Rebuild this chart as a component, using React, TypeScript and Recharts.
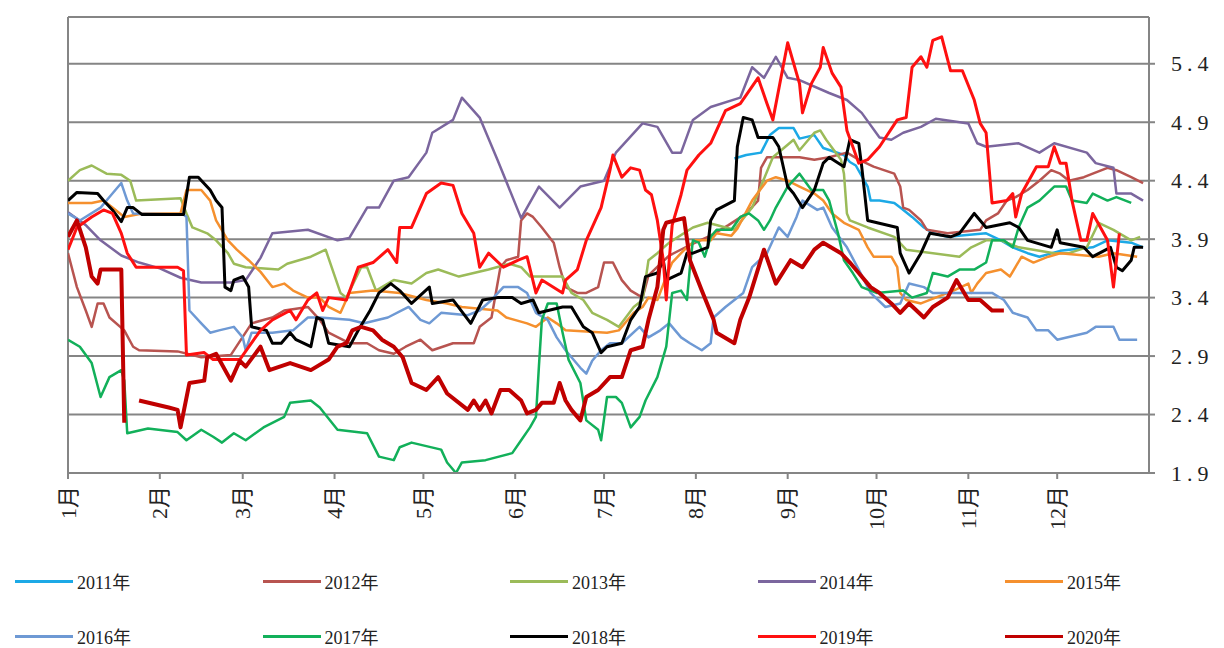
import { LineChart, Line, XAxis, YAxis, CartesianGrid, ReferenceLine } from 'recharts';

// x = day of year (0 = Jan 1), y = value
const monthStarts = [0, 31, 59, 90, 120, 151, 181, 212, 243, 273, 304, 334];
const monthLabels = ['1月', '2月', '3月', '4月', '5月', '6月', '7月', '8月', '9月', '10月', '11月', '12月'];
const valueTicks = [1.9, 2.4, 2.9, 3.4, 3.9, 4.4, 4.9, 5.4];

const s2011 = [[225,4.59],[229,4.62],[234,4.64],[237,4.79],[240,4.85],[245,4.85],[247,4.76],[252,4.79],[255,4.68],[262,4.62],[264,4.56],[266,4.53],[270,4.35],[271,4.23],[274,4.23],[279,4.21],[281,4.17],[285,4.09],[289,4.0],[292,3.95],[297,3.92],[310,3.95],[315,3.89],[319,3.83],[324,3.78],[328,3.75],[335,3.8],[346,3.83],[351,3.89],[359,3.87],[363,3.83]];

const s2012 = [[0,3.78],[3,3.49],[6,3.29],[8,3.15],[10,3.35],[12,3.35],[14,3.23],[19,3.12],[22,2.98],[24,2.95],[37,2.94],[45,2.89],[55,2.91],[62,3.18],[69,3.23],[73,3.29],[81,3.32],[85,3.21],[88,3.1],[95,3.01],[101,3.01],[105,2.95],[110,2.92],[114,2.98],[119,3.04],[123,2.95],[130,3.01],[137,3.01],[139,3.15],[143,3.23],[146,3.66],[148,3.72],[152,3.75],[153,4.06],[155,4.12],[157,4.09],[160,4.0],[164,3.87],[166,3.66],[168,3.49],[172,3.44],[175,3.44],[179,3.49],[181,3.7],[184,3.7],[187,3.55],[190,3.46],[194,3.4],[196,3.59],[203,3.76],[210,3.85],[217,3.93],[223,4.02],[229,4.12],[233,4.23],[234,4.51],[236,4.6],[247,4.6],[252,4.58],[257,4.6],[263,4.64],[267,4.58],[272,4.52],[279,4.46],[281,4.35],[282,4.17],[284,4.15],[288,4.06],[290,3.98],[297,3.95],[308,3.98],[310,4.06],[314,4.12],[317,4.23],[320,4.26],[324,4.32],[328,4.4],[332,4.49],[335,4.46],[338,4.4],[343,4.43],[346,4.46],[351,4.51],[354,4.49],[359,4.43],[363,4.38]];

const s2013 = [[0,4.4],[4,4.49],[8,4.53],[13,4.46],[18,4.45],[21,4.4],[23,4.23],[38,4.25],[40,4.12],[42,4.0],[47,3.95],[50,3.89],[54,3.78],[56,3.69],[60,3.66],[71,3.64],[74,3.69],[82,3.75],[87,3.81],[92,3.44],[94,3.4],[99,3.66],[101,3.66],[104,3.46],[110,3.55],[116,3.52],[121,3.61],[125,3.64],[132,3.58],[142,3.64],[149,3.69],[153,3.66],[156,3.58],[167,3.58],[170,3.44],[174,3.38],[177,3.27],[182,3.21],[186,3.15],[191,3.32],[194,3.38],[196,3.72],[199,3.78],[203,3.87],[211,4.0],[216,4.04],[225,3.98],[231,4.17],[238,4.6],[245,4.75],[247,4.66],[252,4.81],[254,4.83],[256,4.75],[261,4.58],[262,4.46],[263,4.12],[264,4.06],[270,4.0],[279,3.92],[283,3.81],[301,3.75],[305,3.83],[310,3.89],[315,3.89],[321,3.83],[333,3.78],[338,3.78],[344,3.83],[348,4.04],[353,3.98],[359,3.89],[362,3.92]];

const s2014 = [[0,4.13],[6,4.02],[11,3.89],[18,3.76],[24,3.7],[31,3.65],[38,3.57],[45,3.53],[55,3.53],[60,3.55],[65,3.74],[69,3.95],[81,3.98],[91,3.89],[95,3.91],[101,4.17],[105,4.17],[110,4.4],[115,4.43],[121,4.64],[123,4.81],[130,4.92],[133,5.11],[139,4.94],[145,4.58],[153,4.08],[159,4.35],[166,4.17],[173,4.35],[181,4.4],[185,4.64],[194,4.89],[199,4.86],[204,4.64],[207,4.64],[211,4.92],[217,5.03],[227,5.11],[231,5.37],[235,5.28],[239,5.46],[243,5.28],[247,5.26],[257,5.15],[263,5.09],[268,4.98],[274,4.77],[278,4.75],[282,4.81],[288,4.86],[293,4.93],[304,4.89],[307,4.72],[310,4.69],[321,4.72],[328,4.64],[333,4.72],[344,4.64],[347,4.55],[353,4.51],[354,4.29],[359,4.29],[363,4.23]];

const s2015 = [[0,4.21],[8,4.21],[12,4.23],[15,4.17],[19,4.09],[25,4.12],[38,4.12],[40,4.32],[45,4.32],[48,4.23],[50,4.06],[54,3.89],[57,3.81],[61,3.72],[65,3.62],[69,3.49],[73,3.52],[76,3.46],[81,3.4],[85,3.4],[88,3.32],[92,3.27],[95,3.44],[103,3.46],[112,3.44],[121,3.38],[128,3.35],[133,3.32],[145,3.29],[148,3.23],[155,3.18],[158,3.15],[162,3.23],[165,3.18],[168,3.12],[182,3.1],[186,3.12],[191,3.27],[194,3.32],[196,3.4],[199,3.38],[202,3.58],[204,3.7],[207,3.78],[209,3.83],[212,3.89],[217,3.89],[219,3.95],[224,3.93],[226,3.99],[231,4.23],[236,4.4],[239,4.43],[243,4.4],[247,4.35],[252,4.29],[255,4.23],[258,4.12],[262,4.04],[267,3.98],[270,3.83],[272,3.75],[278,3.75],[280,3.66],[281,3.44],[283,3.38],[288,3.35],[291,3.38],[299,3.46],[304,3.52],[305,3.44],[307,3.52],[310,3.61],[315,3.64],[318,3.58],[322,3.75],[326,3.7],[331,3.75],[335,3.78],[348,3.75],[353,3.78],[361,3.75]];

const s2016 = [[0,4.12],[4,4.06],[11,4.17],[14,4.26],[18,4.38],[20,4.23],[22,4.12],[39,4.11],[40,4.09],[41,3.29],[45,3.18],[48,3.1],[51,3.12],[56,3.15],[59,3.06],[60,2.95],[62,3.1],[69,3.1],[76,3.12],[81,3.23],[85,3.23],[95,3.21],[100,3.18],[108,3.23],[115,3.32],[119,3.21],[122,3.18],[126,3.27],[135,3.25],[139,3.29],[143,3.38],[147,3.49],[152,3.49],[155,3.44],[158,3.27],[162,3.21],[165,3.06],[168,2.95],[173,2.8],[175,2.75],[177,2.86],[180,2.95],[183,3.01],[187,3.01],[193,3.15],[196,3.06],[200,3.12],[203,3.18],[207,3.06],[210,3.01],[214,2.95],[217,3.01],[218,3.23],[222,3.32],[228,3.44],[231,3.66],[236,3.78],[240,4.0],[243,3.92],[246,4.09],[248,4.23],[253,4.15],[255,4.17],[258,4.0],[263,3.83],[267,3.64],[271,3.44],[276,3.32],[281,3.35],[284,3.52],[289,3.49],[292,3.44],[312,3.44],[316,3.38],[319,3.27],[324,3.23],[327,3.12],[331,3.12],[334,3.04],[344,3.1],[347,3.15],[353,3.15],[355,3.04],[361,3.04]];

const s2017 = [[0,3.04],[4,2.98],[8,2.84],[11,2.55],[14,2.72],[18,2.78],[19,2.69],[20,2.24],[27,2.28],[37,2.25],[40,2.18],[45,2.27],[49,2.21],[52,2.16],[56,2.24],[60,2.18],[66,2.29],[73,2.38],[75,2.5],[82,2.52],[85,2.46],[91,2.27],[101,2.24],[105,2.04],[110,2.01],[112,2.12],[116,2.16],[126,2.1],[128,1.99],[131,1.9],[133,1.99],[141,2.01],[150,2.07],[153,2.18],[156,2.29],[158,2.38],[159,2.81],[160,3.21],[162,3.35],[165,3.35],[167,3.1],[169,2.87],[173,2.67],[175,2.35],[179,2.27],[180,2.18],[182,2.55],[185,2.55],[187,2.5],[190,2.29],[193,2.38],[195,2.52],[199,2.72],[202,2.98],[204,3.44],[207,3.46],[209,3.38],[210,3.66],[211,3.89],[213,3.87],[215,3.75],[217,3.92],[219,3.98],[224,3.98],[227,4.09],[230,4.12],[233,4.06],[235,3.98],[237,4.06],[239,4.17],[243,4.35],[247,4.46],[251,4.32],[255,4.32],[257,4.23],[260,3.95],[262,3.72],[265,3.61],[268,3.49],[273,3.44],[282,3.46],[285,3.4],[290,3.44],[292,3.61],[297,3.58],[301,3.64],[306,3.64],[310,3.7],[312,3.89],[316,3.89],[319,3.83],[321,4.0],[324,4.17],[328,4.23],[333,4.35],[337,4.35],[339,4.23],[344,4.21],[346,4.29],[351,4.23],[354,4.26],[359,4.21]];

const s2018 = [[0,4.23],[3,4.3],[10,4.29],[12,4.23],[15,4.15],[18,4.05],[20,4.17],[22,4.17],[25,4.11],[39,4.11],[41,4.43],[44,4.43],[48,4.32],[50,4.23],[52,4.17],[53,3.49],[55,3.46],[56,3.55],[59,3.58],[61,3.49],[62,3.15],[67,3.12],[69,3.01],[72,3.01],[75,3.1],[77,3.04],[82,2.98],[84,3.23],[86,3.21],[88,3.01],[95,2.98],[98,3.12],[102,3.29],[105,3.44],[109,3.52],[112,3.46],[116,3.35],[122,3.49],[123,3.35],[130,3.38],[136,3.18],[140,3.38],[145,3.4],[150,3.4],[153,3.35],[157,3.38],[159,3.27],[167,3.32],[170,3.32],[174,3.15],[177,3.1],[180,2.93],[182,2.98],[187,3.01],[190,3.21],[193,3.32],[195,3.58],[199,3.61],[201,3.72],[202,3.55],[207,3.61],[209,3.78],[211,3.78],[216,3.83],[217,4.06],[219,4.15],[225,4.23],[226,4.69],[228,4.94],[231,4.92],[233,4.77],[238,4.77],[240,4.69],[243,4.35],[245,4.29],[248,4.17],[252,4.32],[255,4.55],[257,4.6],[262,4.52],[264,4.75],[267,4.72],[268,4.52],[270,4.06],[280,4.0],[281,3.78],[284,3.61],[288,3.78],[291,3.95],[298,3.92],[301,3.95],[306,4.12],[310,4.0],[318,4.04],[321,4.0],[324,3.89],[332,3.83],[334,3.98],[335,3.87],[343,3.83],[346,3.75],[352,3.83],[354,3.66],[356,3.63],[359,3.72],[360,3.83],[363,3.83]];

const s2019 = [[0,3.81],[3,4.0],[8,4.09],[12,4.15],[15,4.12],[18,3.95],[20,3.78],[23,3.66],[37,3.66],[39,3.63],[40,2.91],[46,2.93],[49,2.87],[58,2.87],[65,3.12],[69,3.21],[75,3.29],[77,3.21],[81,3.38],[84,3.44],[86,3.29],[88,3.4],[94,3.38],[98,3.66],[103,3.7],[108,3.81],[111,3.7],[112,4.0],[116,4.0],[121,4.29],[126,4.38],[130,4.36],[133,4.12],[137,3.95],[139,3.66],[142,3.78],[147,3.66],[152,3.72],[155,3.75],[158,3.44],[160,3.55],[167,3.44],[168,3.55],[172,3.64],[175,3.89],[180,4.17],[183,4.49],[184,4.62],[187,4.43],[190,4.51],[193,4.49],[195,4.32],[197,4.28],[199,4.06],[201,3.72],[202,3.38],[203,3.72],[204,4.02],[207,4.28],[209,4.49],[213,4.62],[217,4.72],[222,5.0],[227,5.06],[233,5.28],[236,5.06],[238,4.92],[243,5.58],[247,5.23],[248,4.98],[251,5.23],[254,5.37],[255,5.54],[258,5.32],[261,5.2],[263,4.83],[265,4.69],[267,4.55],[270,4.58],[274,4.69],[280,4.92],[283,4.94],[285,5.37],[288,5.46],[290,5.37],[292,5.6],[295,5.63],[298,5.34],[302,5.34],[306,5.09],[308,4.89],[310,4.81],[312,4.21],[317,4.23],[319,4.29],[320,4.09],[322,4.29],[327,4.52],[331,4.52],[333,4.69],[335,4.55],[337,4.55],[339,4.23],[342,3.89],[344,3.89],[346,4.12],[351,3.89],[353,3.49],[355,3.95]];

const s2020 = [[0,3.92],[3,4.06],[6,3.83],[8,3.58],[10,3.52],[11,3.64],[18,3.64],[19,2.33],[21,null],[24,2.52],[34,2.46],[37,2.44],[38,2.29],[41,2.67],[46,2.69],[47,2.89],[50,2.92],[55,2.69],[58,2.86],[60,2.81],[65,2.98],[68,2.78],[75,2.84],[82,2.78],[88,2.87],[91,2.98],[94,3.01],[96,3.12],[99,3.15],[103,3.12],[106,3.04],[110,2.98],[113,2.89],[116,2.67],[121,2.61],[125,2.72],[128,2.58],[135,2.44],[137,2.52],[139,2.44],[141,2.52],[143,2.41],[146,2.61],[149,2.61],[153,2.52],[155,2.41],[158,2.44],[160,2.5],[164,2.5],[166,2.67],[168,2.52],[170,2.44],[173,2.35],[175,2.55],[179,2.61],[183,2.72],[187,2.72],[190,2.95],[194,2.98],[196,3.21],[199,3.49],[201,3.98],[202,4.04],[208,4.08],[210,3.72],[214,3.46],[218,3.21],[219,3.1],[225,3.01],[227,3.21],[230,3.4],[235,3.81],[239,3.52],[244,3.72],[248,3.66],[252,3.81],[255,3.87],[261,3.78],[264,3.7],[267,3.61],[271,3.49],[274,3.44],[278,3.35],[281,3.27],[284,3.35],[289,3.23],[292,3.32],[297,3.4],[300,3.55],[304,3.38],[308,3.38],[312,3.29],[316,3.29]];

const series = [
  { name: '2011年', data: s2011, color: '#1CA9E6', width: 2.5 },
  { name: '2012年', data: s2012, color: '#B85450', width: 2.5 },
  { name: '2013年', data: s2013, color: '#9BBB59', width: 2.5 },
  { name: '2014年', data: s2014, color: '#7B669E', width: 2.5 },
  { name: '2015年', data: s2015, color: '#F5902E', width: 2.5 },
  { name: '2016年', data: s2016, color: '#6E99D4', width: 2.5 },
  { name: '2017年', data: s2017, color: '#12B05A', width: 2.5 },
  { name: '2018年', data: s2018, color: '#000000', width: 3 },
  { name: '2019年', data: s2019, color: '#FF1010', width: 3 },
  { name: '2020年', data: s2020, color: '#C00000', width: 4 },
];

const FONT = '"Liberation Serif", "Noto Sans CJK SC", serif';

// no scrollbars: the page is exactly the window size
if (typeof document !== 'undefined') {
  document.documentElement.style.overflow = 'hidden';
  document.body.style.overflow = 'hidden';
}

const MonthTick = ({ x, y, payload }: any) => {
  const i = monthStarts.indexOf(payload.value);
  return (
    <text
      transform={`translate(${x},${y + 5}) rotate(-90)`}
      textAnchor="end"
      dominantBaseline="central"
      fontSize={22}
      fontFamily={FONT}
      fill="#222"
    >
      {monthLabels[i]}
    </text>
  );
};

const ValueTick = ({ x, y, payload }: any) => (
  <text x={x} y={y} textAnchor="start" dominantBaseline="central" fontSize={22} letterSpacing={5} fontFamily={FONT} fill="#222">
    {payload.value.toFixed(1)}
  </text>
);

export default function App() {
  return (
    <div style={{ width: 1208, height: 640, overflow: 'hidden', fontFamily: FONT }}>
      <LineChart width={1208} height={540} margin={{ top: 9, right: 7, left: 60, bottom: 15 }}>
        <CartesianGrid vertical={false} stroke="#858585" strokeWidth={2} />
        <XAxis
          dataKey="d"
          type="number"
          domain={[0, 365]}
          ticks={monthStarts}
          allowDataOverflow
          height={60}
          stroke="#858585"
          strokeWidth={2}
          tickSize={6}
          tick={<MonthTick />}
          interval={0}
        />
        <YAxis
          orientation="right"
          type="number"
          domain={[1.9, 5.8]}
          ticks={valueTicks}
          allowDataOverflow
          width={60}
          stroke="#858585"
          strokeWidth={2}
          tickSize={6}
          tickMargin={16}
          tick={<ValueTick />}
          interval={0}
        />
        <ReferenceLine y={5.8} stroke="#858585" strokeWidth={2} />
        <ReferenceLine x={0} stroke="#858585" strokeWidth={2} />
        {series.map((s) => (
          <Line
            key={s.name}
            name={s.name}
            data={s.data.map(([d, v]) => ({ d, v }))}
            dataKey="v"
            stroke={s.color}
            strokeWidth={s.width}
            dot={false}
            activeDot={false}
            strokeLinejoin="round"
            isAnimationActive={false}
          />
        ))}
      </LineChart>
      <div style={{ position: 'relative', width: 1208, height: 100 }}>
        {series.map((s, i) => {
          const col = i % 5;
          const row = Math.floor(i / 5);
          return (
            <div
              key={s.name}
              style={{
                position: 'absolute',
                left: 7 + col * 247.5,
                top: 21 + row * 55,
                height: 24,
                display: 'flex',
                alignItems: 'center',
                fontSize: 18,
                color: '#222',
                whiteSpace: 'nowrap',
              }}
            >
              <span style={{ display: 'inline-block', width: 58, height: 3, background: s.color, marginRight: 4 }} />
              <span>{s.name}</span>
            </div>
          );
        })}
      </div>
    </div>
  );
}
